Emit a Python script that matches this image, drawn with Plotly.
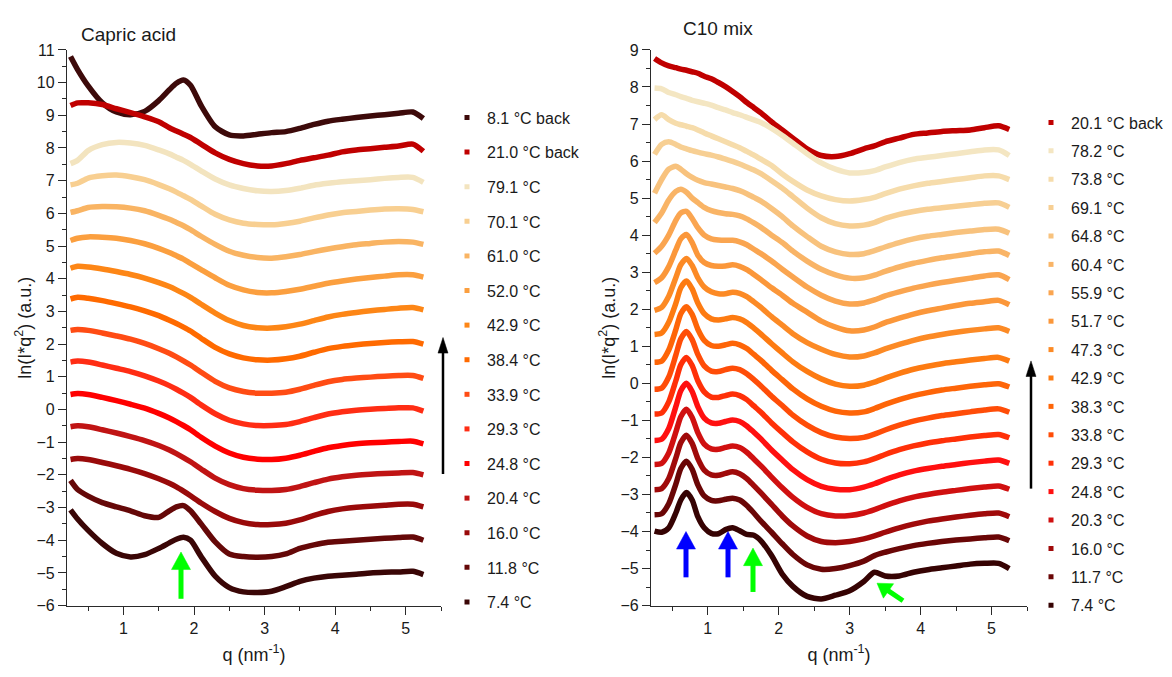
import plotly.graph_objects as go

# ---------------- data: left panel (Capric acid) ----------------
QL = [0.25, 0.35, 0.5, 0.7, 0.9, 1.1, 1.3, 1.5, 1.65, 1.75, 1.85, 1.95, 2.1, 2.3, 2.5,
      2.7, 2.9, 3.1, 3.3, 3.5, 3.7, 3.9, 4.1, 4.3, 4.5, 4.7, 4.9, 5.1, 5.25]

L_8_1_back = [10.8, 10.4, 9.9, 9.38, 9.1, 9.02, 9.12, 9.45, 9.78, 9.98, 10.08, 9.92, 9.3, 8.65, 8.4,
              8.37, 8.42, 8.47, 8.5, 8.6, 8.72, 8.82, 8.88, 8.93, 8.98, 9.02, 9.06, 9.1, 8.9]
L_21_0_back = [9.3, 9.38, 9.38, 9.33, 9.2, 9.08, 8.95, 8.8, 8.62, 8.52, 8.42, 8.32, 8.12, 7.85, 7.65,
               7.52, 7.45, 7.45, 7.52, 7.62, 7.7, 7.78, 7.88, 7.94, 7.98, 8.02, 8.06, 8.12, 7.9]
L_79_1 = [7.52, 7.62, 7.92, 8.1, 8.17, 8.15, 8.08, 7.94, 7.82, 7.72, 7.62, 7.5, 7.3, 7.05, 6.87,
          6.76, 6.69, 6.67, 6.7, 6.77, 6.86, 6.92, 6.97, 7.0, 7.03, 7.07, 7.1, 7.1, 6.95]
L_70_1 = [6.87, 6.92, 7.08, 7.15, 7.17, 7.12, 7.03, 6.88, 6.75, 6.65, 6.54, 6.43, 6.23, 5.97, 5.8,
          5.7, 5.66, 5.65, 5.69, 5.76, 5.86, 5.95, 6.02, 6.06, 6.1, 6.13, 6.14, 6.12, 6.05]
L_61_0 = [6.03, 6.08, 6.18, 6.21, 6.2, 6.16, 6.08, 5.94, 5.82, 5.72, 5.62, 5.5, 5.3, 5.05, 4.84,
          4.72, 4.65, 4.63, 4.67, 4.74, 4.83, 4.91, 4.98, 5.04, 5.08, 5.12, 5.14, 5.12, 5.05]
L_52_0 = [5.17, 5.24, 5.28, 5.27, 5.24, 5.17, 5.07, 4.93, 4.8, 4.7, 4.6, 4.47, 4.28, 4.03, 3.8,
          3.66, 3.58, 3.57, 3.61, 3.68, 3.77, 3.86, 3.93, 3.99, 4.04, 4.08, 4.12, 4.12, 4.05]
L_42_9 = [4.32, 4.38, 4.36, 4.3, 4.22, 4.13, 4.02, 3.88, 3.76, 3.66, 3.55, 3.43, 3.22, 2.95, 2.72,
          2.57, 2.5, 2.49, 2.53, 2.61, 2.72, 2.83, 2.91, 2.97, 3.02, 3.06, 3.1, 3.12, 3.05]
L_38_4 = [3.38, 3.43, 3.4, 3.33, 3.24, 3.14, 3.02, 2.87, 2.73, 2.63, 2.52, 2.4, 2.18, 1.9, 1.7,
          1.58, 1.52, 1.51, 1.55, 1.63, 1.75, 1.86, 1.93, 1.98, 2.02, 2.05, 2.07, 2.08, 2.0]
L_33_9 = [2.42, 2.45, 2.42, 2.34, 2.25, 2.15, 2.02, 1.86, 1.72, 1.61, 1.49, 1.36, 1.14, 0.86, 0.66,
          0.55, 0.5, 0.5, 0.53, 0.62, 0.74, 0.85, 0.92, 0.96, 0.99, 1.02, 1.04, 1.04, 0.95]
L_29_3 = [1.45, 1.48, 1.45, 1.36, 1.26, 1.16, 1.03, 0.87, 0.73, 0.62, 0.5, 0.37, 0.14, -0.13, -0.33,
          -0.44, -0.49, -0.49, -0.46, -0.37, -0.25, -0.14, -0.07, -0.02, 0.01, 0.03, 0.05, 0.05, -0.05]
L_24_8 = [0.46, 0.49, 0.46, 0.37, 0.27, 0.16, 0.04, -0.12, -0.26, -0.37, -0.49, -0.62, -0.85, -1.12, -1.33,
          -1.46, -1.52, -1.53, -1.49, -1.4, -1.28, -1.17, -1.1, -1.05, -1.02, -1.0, -0.98, -0.97, -1.05]
L_20_4 = [-0.53, -0.5, -0.53, -0.62, -0.72, -0.83, -0.95, -1.1, -1.24, -1.35, -1.47, -1.6, -1.82, -2.1, -2.3,
          -2.42, -2.47, -2.48, -2.45, -2.36, -2.24, -2.13, -2.06, -2.01, -1.98, -1.96, -1.94, -1.93, -2.0]
L_16_0 = [-1.53, -1.5, -1.53, -1.62, -1.72, -1.83, -1.96, -2.12, -2.26, -2.37, -2.5, -2.64, -2.86, -3.12, -3.33,
          -3.46, -3.52, -3.52, -3.48, -3.38, -3.24, -3.12, -3.04, -2.99, -2.96, -2.93, -2.9, -2.9, -2.98]
L_11_8 = [-2.17, -2.45, -2.65, -2.85, -2.98, -3.1, -3.25, -3.3, -3.1, -2.98, -2.94, -3.1, -3.5, -4.05, -4.42,
          -4.5, -4.52, -4.5, -4.42, -4.25, -4.14, -4.06, -4.03, -4.0, -3.97, -3.94, -3.92, -3.9, -4.0]
L_7_4 = [-3.07, -3.35, -3.7, -4.1, -4.4, -4.51, -4.44, -4.25, -4.08, -3.97, -3.91, -4.0, -4.5, -5.1, -5.45,
         -5.58, -5.6, -5.56, -5.42, -5.26, -5.16, -5.1, -5.07, -5.04, -5.0, -4.98, -4.97, -4.95, -5.05]

LABELS_L = ["8.1 °C back", "21.0 °C back", "79.1 °C", "70.1 °C", "61.0 °C", "52.0 °C", "42.9 °C",
            "38.4 °C", "33.9 °C", "29.3 °C", "24.8 °C", "20.4 °C", "16.0 °C", "11.8 °C", "7.4 °C"]
SERIES_L = [L_8_1_back, L_21_0_back, L_79_1, L_70_1, L_61_0, L_52_0, L_42_9, L_38_4, L_33_9,
            L_29_3, L_24_8, L_20_4, L_16_0, L_11_8, L_7_4]
COLORS_L = ["#3d0a0a", "#c00000", "#f3e4bf", "#f8cf91", "#f9b463", "#fb9f3f", "#fd8616", "#ff6a00",
            "#ff4c14", "#ff2d14", "#ff0000", "#c01414", "#990a0a", "#650808", "#3a0606"]

# ---------------- data: right panel (C10 mix) ----------------
QR = [0.25, 0.35, 0.45, 0.55, 0.62, 0.7, 0.78, 0.86, 0.95, 1.05, 1.15, 1.25, 1.35, 1.45, 1.55,
      1.65, 1.75, 1.9, 2.05, 2.2, 2.4, 2.6, 2.8, 3.0, 3.2, 3.35, 3.5, 3.7, 3.9, 4.1, 4.3, 4.5,
      4.7, 4.9, 5.1, 5.25]

R_20_1_back = [8.77, 8.65, 8.57, 8.52, 8.48, 8.45, 8.41, 8.37, 8.29, 8.22, 8.12, 8.01, 7.88, 7.74, 7.58,
               7.44, 7.3, 7.06, 6.84, 6.62, 6.33, 6.15, 6.12, 6.2, 6.33, 6.41, 6.52, 6.62, 6.72, 6.76,
               6.8, 6.82, 6.84, 6.9, 6.95, 6.85]
R_78_2 = [7.97, 7.95, 7.85, 7.79, 7.74, 7.69, 7.64, 7.6, 7.56, 7.51, 7.44, 7.38, 7.31, 7.25, 7.18,
          7.11, 7.04, 6.88, 6.69, 6.48, 6.2, 5.95, 5.78, 5.68, 5.69, 5.74, 5.84, 5.96, 6.05, 6.1,
          6.15, 6.2, 6.25, 6.3, 6.3, 6.15]
R_73_8 = [7.12, 7.25, 7.12, 7.02, 6.98, 6.94, 6.9, 6.84, 6.76, 6.68, 6.6, 6.52, 6.44, 6.36, 6.26,
          6.16, 6.05, 5.88, 5.65, 5.45, 5.22, 5.06, 4.96, 4.92, 4.96, 5.02, 5.12, 5.24, 5.33, 5.4,
          5.45, 5.5, 5.55, 5.6, 5.6, 5.5]
R_69_1 = [6.18, 6.45, 6.52, 6.45, 6.38, 6.33, 6.28, 6.24, 6.2, 6.16, 6.11, 6.05, 5.99, 5.92, 5.84,
          5.76, 5.66, 5.47, 5.27, 5.04, 4.73, 4.47, 4.31, 4.25, 4.27, 4.34, 4.45, 4.56, 4.64, 4.7,
          4.74, 4.78, 4.82, 4.86, 4.87, 4.75]
R_64_8 = [5.13, 5.5, 5.78, 5.86, 5.78, 5.66, 5.56, 5.48, 5.42, 5.38, 5.34, 5.3, 5.26, 5.2, 5.12,
          5.02, 4.92, 4.72, 4.5, 4.25, 3.96, 3.7, 3.55, 3.48, 3.5, 3.58, 3.68, 3.8, 3.9, 3.97,
          4.02, 4.07, 4.11, 4.15, 4.16, 4.05]
R_60_4 = [4.34, 4.6, 4.95, 5.18, 5.24, 5.16, 5.0, 4.88, 4.75, 4.66, 4.61, 4.58, 4.56, 4.52, 4.44,
          4.33, 4.21, 4.0, 3.8, 3.57, 3.3, 3.08, 2.93, 2.84, 2.85, 2.92, 3.02, 3.14, 3.24, 3.32,
          3.39, 3.44, 3.5, 3.55, 3.57, 3.45]
R_55_9 = [3.51, 3.7, 4.0, 4.4, 4.6, 4.64, 4.45, 4.2, 4.0, 3.9, 3.87, 3.86, 3.86, 3.82, 3.74,
          3.62, 3.5, 3.3, 3.08, 2.87, 2.6, 2.38, 2.22, 2.14, 2.17, 2.25, 2.36, 2.47, 2.57, 2.65,
          2.72, 2.78, 2.84, 2.9, 2.93, 2.8]
R_51_7 = [2.72, 2.85, 3.15, 3.6, 3.9, 4.02, 3.8, 3.46, 3.26, 3.18, 3.16, 3.17, 3.2, 3.16, 3.07,
          2.94, 2.8, 2.58, 2.38, 2.16, 1.92, 1.68, 1.52, 1.42, 1.44, 1.52, 1.64, 1.76, 1.87, 1.96,
          2.03, 2.1, 2.16, 2.2, 2.24, 2.12]
R_47_3 = [1.97, 2.05, 2.35, 2.85, 3.2, 3.37, 3.18, 2.85, 2.6, 2.47, 2.42, 2.42, 2.46, 2.43, 2.34,
          2.2, 2.05, 1.8, 1.57, 1.34, 1.1, 0.92, 0.78, 0.71, 0.74, 0.82, 0.93, 1.05, 1.16, 1.25,
          1.32, 1.38, 1.43, 1.47, 1.5, 1.4]
R_42_9 = [1.32, 1.36, 1.65, 2.16, 2.58, 2.76, 2.55, 2.17, 1.88, 1.74, 1.71, 1.74, 1.78, 1.74, 1.64,
          1.49, 1.33, 1.07, 0.82, 0.58, 0.32, 0.12, -0.02, -0.08, -0.05, 0.03, 0.14, 0.27, 0.38, 0.46,
          0.53, 0.58, 0.63, 0.67, 0.7, 0.6]
R_38_3 = [0.57, 0.6, 0.9, 1.45, 1.88, 2.07, 1.86, 1.46, 1.16, 1.02, 1.0, 1.04, 1.08, 1.04, 0.94,
          0.78, 0.62, 0.35, 0.1, -0.15, -0.42, -0.62, -0.75, -0.8, -0.77, -0.68, -0.57, -0.44, -0.33, -0.25,
          -0.18, -0.13, -0.08, -0.04, -0.01, -0.1]
R_33_8 = [-0.16, -0.13, 0.17, 0.76, 1.2, 1.4, 1.18, 0.78, 0.47, 0.33, 0.32, 0.37, 0.41, 0.37, 0.26,
          0.1, -0.07, -0.35, -0.6, -0.86, -1.13, -1.33, -1.45, -1.49, -1.46, -1.37, -1.26, -1.13, -1.02, -0.94,
          -0.87, -0.82, -0.77, -0.72, -0.69, -0.78]
R_29_3 = [-0.83, -0.8, -0.5, 0.07, 0.5, 0.7, 0.48, 0.07, -0.23, -0.37, -0.38, -0.33, -0.29, -0.33, -0.44,
          -0.61, -0.78, -1.07, -1.33, -1.58, -1.85, -2.05, -2.15, -2.17, -2.12, -2.03, -1.92, -1.79, -1.69, -1.61,
          -1.55, -1.5, -1.45, -1.41, -1.38, -1.47]
R_24_8 = [-1.54, -1.51, -1.22, -0.63, -0.2, 0.0, -0.22, -0.63, -0.94, -1.07, -1.08, -1.03, -0.99, -1.03, -1.15,
          -1.32, -1.5, -1.8, -2.07, -2.33, -2.6, -2.78, -2.86, -2.87, -2.8, -2.71, -2.6, -2.47, -2.37, -2.3,
          -2.24, -2.19, -2.14, -2.1, -2.07, -2.16]
R_20_3 = [-2.19, -2.16, -1.88, -1.32, -0.9, -0.7, -0.92, -1.33, -1.64, -1.77, -1.78, -1.73, -1.69, -1.73, -1.86,
          -2.04, -2.23, -2.53, -2.82, -3.08, -3.35, -3.52, -3.58, -3.57, -3.5, -3.41, -3.3, -3.17, -3.07, -3.0,
          -2.94, -2.89, -2.84, -2.8, -2.77, -2.86]
R_16_0 = [-2.87, -2.84, -2.57, -2.02, -1.6, -1.4, -1.62, -2.03, -2.34, -2.47, -2.48, -2.43, -2.39, -2.44, -2.57,
          -2.76, -2.96, -3.27, -3.58, -3.85, -4.12, -4.27, -4.3, -4.27, -4.2, -4.12, -4.02, -3.9, -3.8, -3.72,
          -3.66, -3.61, -3.56, -3.52, -3.5, -3.6]
R_11_7 = [-3.55, -3.52, -3.25, -2.72, -2.3, -2.1, -2.32, -2.74, -3.04, -3.16, -3.17, -3.13, -3.1, -3.15, -3.3,
          -3.5, -3.72, -4.02, -4.33, -4.62, -4.9, -5.02, -5.0, -4.92, -4.8, -4.65, -4.56, -4.46, -4.38, -4.32,
          -4.27, -4.23, -4.2, -4.17, -4.15, -4.25]
R_7_4 = [-3.99, -4.02, -3.9, -3.5, -3.15, -2.95, -3.15, -3.6, -3.9, -4.05, -4.06, -3.95, -3.9, -3.98, -4.08,
         -4.1, -4.25, -4.65, -5.15, -5.48, -5.75, -5.82, -5.72, -5.6, -5.35, -5.1, -5.2, -5.2, -5.1, -5.03,
         -4.98, -4.93, -4.88, -4.86, -4.86, -5.0]

LABELS_R = ["20.1 °C back", "78.2 °C", "73.8 °C", "69.1 °C", "64.8 °C", "60.4 °C", "55.9 °C", "51.7 °C",
            "47.3 °C", "42.9 °C", "38.3 °C", "33.8 °C", "29.3 °C", "24.8 °C", "20.3 °C", "16.0 °C",
            "11.7 °C", "7.4 °C"]
SERIES_R = [R_20_1_back, R_78_2, R_73_8, R_69_1, R_64_8, R_60_4, R_55_9, R_51_7, R_47_3, R_42_9,
            R_38_3, R_33_8, R_29_3, R_24_8, R_20_3, R_16_0, R_11_7, R_7_4]
COLORS_R = ["#c00000", "#f4e6c2", "#f6dcab", "#f7cf93", "#f8c27d", "#f9b466", "#faa550", "#fb973a",
            "#fc8a25", "#fd7b12", "#fe6508", "#ff4d08", "#ff3008", "#ff1010", "#d01010", "#a00a0a",
            "#6a0606", "#360303"]

# ---------------- figure ----------------
W, H = 1172, 677
FONT = "Liberation Sans, Arial, sans-serif"
TXT = "#1a1a1a"
AX = "#2a2a2a"

fig = go.Figure()

def add_panel(q, series, labels, colors, xa, ya, leg):
    for vals, lab, col in zip(series, labels, colors):
        fig.add_trace(go.Scatter(
            x=q, y=vals, mode="lines", xaxis=xa, yaxis=ya,
            line=dict(color=col, width=5.5, shape="spline", smoothing=0.7),
            showlegend=False, hoverinfo="skip"))
    for lab, col in zip(labels, colors):
        fig.add_trace(go.Scatter(
            x=[None], y=[None], mode="markers", xaxis=xa, yaxis=ya,
            marker=dict(symbol="square", size=5, color=col),
            name=lab, legend=leg, legendgroup=leg + lab, showlegend=True))

add_panel(QL, SERIES_L, LABELS_L, COLORS_L, "x", "y", "legend")
add_panel(QR, SERIES_R, LABELS_R, COLORS_R, "x2", "y2", "legend2")

ydom = [1 - 613 / H, 1 - 43 / H]
XTITLE = "q (nm<sup>-1</sup>)"
YTITLE = "ln(I*q<sup>2</sup>) (a.u.)"

def xax(dom, anchor):
    return dict(domain=dom, anchor=anchor, range=[0.2, 5.5], tick0=0, dtick=1,
                showline=True, linecolor=AX, linewidth=1.3, ticks="outside", ticklen=8,
                tickwidth=1.3, tickcolor=AX, showgrid=False, zeroline=False,
                tickfont=dict(size=16, color=TXT, family=FONT),
                title=dict(text=XTITLE, standoff=12, font=dict(size=18, color=TXT, family=FONT)),
                minor=dict(dtick=0.5, ticks="outside", ticklen=4, tickwidth=1.2, tickcolor=AX))

def yax(rng, anchor):
    return dict(domain=ydom, anchor=anchor, range=rng, tick0=0, dtick=1,
                showline=True, linecolor=AX, linewidth=1.3, ticks="outside", ticklen=8,
                tickwidth=1.3, tickcolor=AX, showgrid=False, zeroline=False,
                tickfont=dict(size=16, color=TXT, family=FONT),
                title=dict(text=YTITLE, standoff=0, font=dict(size=18, color=TXT, family=FONT)),
                minor=dict(dtick=0.5, ticks="outside", ticklen=4, tickwidth=1.2, tickcolor=AX))

legend_common = dict(xanchor="left", yanchor="top", bgcolor="rgba(0,0,0,0)",
                     font=dict(size=16, color=TXT, family=FONT), itemwidth=30,
                     traceorder="grouped")

fig.update_layout(
    width=W, height=H, margin=dict(l=0, r=0, t=0, b=0),
    paper_bgcolor="white", plot_bgcolor="white",
    font=dict(family=FONT, color=TXT),
    xaxis=xax([67 / W, 441 / W], "y"),
    yaxis=yax([-6, 11], "x"),
    xaxis2=xax([651 / W, 1027 / W], "y2"),
    yaxis2=yax([-6, 9], "x2"),
    legend=dict(x=447 / W, y=1 - 95 / H, tracegroupgap=10.8, **legend_common),
    legend2=dict(x=1031 / W, y=1 - 100 / H, tracegroupgap=4.6, **legend_common),
)

def px(x, y):
    return x / W, 1 - y / H

annots = []
# panel titles
for txt, x, y in [("Capric acid", 79, 27), ("C10 mix", 681, 21)]:
    ax_, ay_ = px(x, y)
    annots.append(dict(text=txt, x=ax_, y=ay_, xref="paper", yref="paper", xanchor="left",
                       yanchor="middle", showarrow=False, font=dict(size=19, color=TXT, family=FONT)))
fig.update_layout(annotations=annots)

# arrows drawn as shapes: (tip x, tip y, tail x, tail y, color, shaft width, head length, head width)
ARROWS = [(443, 338, 443, 478, "black", 2.5, 16, 10),
          (1031, 362, 1031, 493, "black", 2.5, 16, 10),
          (181, 558, 181, 606, "#00ff00", 5, 18, 19),
          (686, 537, 686, 584, "#0000ff", 5, 18, 19),
          (728, 537, 728, 584, "#0000ff", 5, 18, 19),
          (753, 554, 753, 599, "#00ff00", 5, 18, 19),
          (877, 590, 903, 608, "#00ff00", 5, 14, 18)]
shapes = []
for tx, ty, sx, sy, col, sw, hl, hw in ARROWS:
    dx, dy = sx - tx, sy - ty
    ln = (dx * dx + dy * dy) ** 0.5
    ux, uy = dx / ln, dy / ln
    bx, by = tx + ux * hl, ty + uy * hl           # base centre of head
    nx, ny = -uy * hw / 2, ux * hw / 2
    x0, y0 = px(bx - ux * 1, by - uy * 1)
    x1, y1 = px(sx, sy)
    shapes.append(dict(type="line", xref="paper", yref="paper", x0=x0, y0=y0, x1=x1, y1=y1,
                       line=dict(color=col, width=sw)))
    p1 = px(tx, ty)
    p2 = px(bx + nx, by + ny)
    p3 = px(bx - nx, by - ny)
    path = "M {:.5f},{:.5f} L {:.5f},{:.5f} L {:.5f},{:.5f} Z".format(p1[0], p1[1], p2[0], p2[1], p3[0], p3[1])
    shapes.append(dict(type="path", xref="paper", yref="paper", path=path,
                       fillcolor=col, line=dict(color=col, width=0.5)))
fig.update_layout(shapes=shapes)

fig.write_html("out.html")
